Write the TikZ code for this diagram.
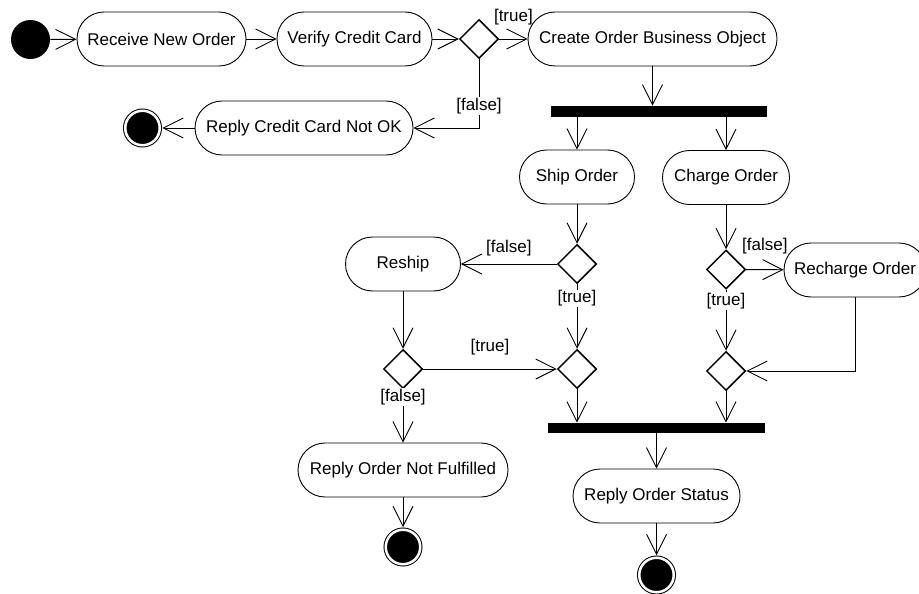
\documentclass[tikz,border=0pt]{standalone}
\usepackage{fontspec}
\setmainfont{Liberation Sans}
\usetikzlibrary{arrows.meta,shapes.geometric}

\begin{document}
\begin{tikzpicture}[x=1pt,y=-1pt,line width=0.9pt,
  font=\fontsize{17pt}{20pt}\selectfont,
  >={Straight Barb[length=20pt,width=20pt]},
  action/.style={draw, rounded corners=27pt, minimum height=54pt, inner sep=0pt},
  choice/.style={draw, diamond, aspect=1, minimum size=39pt, inner sep=0pt, line width=1.5pt},
  bar/.style={fill=black, minimum height=11pt, inner sep=0pt},
  startnode/.style={circle, fill=black, minimum size=39pt, inner sep=0pt},
  stopnode/.style={circle, draw, fill=black, double=white, double distance=2.5pt, line width=1pt, minimum size=34.5pt, inner sep=0pt, outer sep=2.5pt},
  guard/.style={inner sep=0pt},
  onguard/.style={fill=white, inner sep=1pt}]
\useasboundingbox (0,0) rectangle (919,594);
% order intake
\node[startnode] (start) at (30.5,39.5) {};
\node[action, minimum width=169pt] (receive) at (161.5,39) {Receive New Order};
\node[action, minimum width=155pt] (verify) at (354.5,39) {Verify Credit Card};
\node[choice] (cardok) at (479,39) {};
\node[action, minimum width=249pt] (create) at (652.5,39) {Create Order Business Object};
\node[action, minimum width=218pt] (cardfail) at (304,128) {Reply Credit Card Not OK};
\node[stopnode] (stopA) at (142.5,128) {};
\node[bar, minimum width=216pt] (fork) at (659,111.5) {};
% shipping branch
\node[action, minimum width=115pt] (ship) at (577,177) {Ship Order};
\node[choice] (shipok) at (577,264) {};
\node[action, minimum width=115pt] (reship) at (403,264) {Reship};
\node[choice] (shipjoin) at (577,369) {};
\node[choice] (reshipok) at (403,369) {};
\node[action, minimum width=210pt] (notfilled) at (403,470) {Reply Order Not Fulfilled};
\node[stopnode] (stopB) at (403,547) {};
% charging branch
\node[action, minimum width=127pt] (charge) at (726,177.5) {Charge Order};
\node[choice] (chargeok) at (726,269.5) {};
\node[action, minimum width=142pt] (recharge) at (855,270) {Recharge Order};
\node[choice] (chargejoin) at (726,371) {};
\node[bar, minimum width=217pt, minimum height=10pt] (join) at (656.5,428) {};
\node[action, minimum width=167pt] (status) at (656.5,496) {Reply Order Status};
\node[stopnode] (stopC) at (656.5,575) {};

\draw[->] (start) -- (receive);
\draw[->] (receive) -- (verify);
\draw[->] (verify) -- (cardok);
\draw[->] (cardok) -- node[guard, above=14pt] {[true]} (create);
\draw[->] (cardok) |- node[onguard, pos=0.34] {[false]} (cardfail);
\draw[->] (cardfail) -- (stopA);
\draw[->] (create) -- (create.south |- fork.north);
\draw[->] (fork.south -| ship) -- (ship);
\draw[->] (fork.south -| charge) -- (charge);
\draw[->] (ship) -- (shipok);
\draw[->] (shipok) -- node[guard, above=8pt] {[false]} (reship);
\draw[->] (shipok) -- node[onguard, pos=0.22] {[true]} (shipjoin);
\draw[->] (reship) -- (reshipok);
\draw[->] (reshipok) -- node[guard, above=14pt] {[true]} (shipjoin);
\draw[->] (reshipok) -- node[onguard, pos=0.15] {[false]} (notfilled);
\draw[->] (notfilled) -- (stopB);
\draw[->] (shipjoin) -- (shipjoin |- join.north);
\draw[->] (charge) -- (chargeok);
\draw[->] (chargeok) -- node[guard, above=15pt] {[false]} (recharge);
\draw[->] (chargeok) -- node[onguard, pos=0.19] {[true]} (chargejoin);
\draw[->] (recharge) |- (chargejoin);
\draw[->] (chargejoin) -- (chargejoin |- join.north);
\draw[->] (join) -- (status);
\draw[->] (status) -- (stopC);
\end{tikzpicture}
\end{document}
